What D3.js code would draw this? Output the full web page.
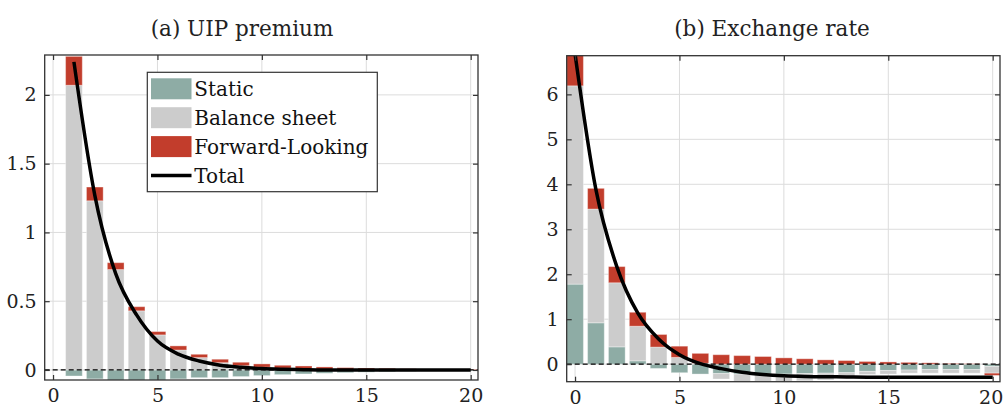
<!DOCTYPE html>
<html><head><meta charset="utf-8">
<script src="https://cdn.jsdelivr.net/npm/d3@7"></script>
<style>body{margin:0;background:#fff}svg{display:block}
.serif{font-family:"DejaVu Serif","Liberation Serif",serif}
.dserif{font-family:"DejaVu Serif","Liberation Serif",serif}
</style>
</head><body>
<svg id="chart" width="1003" height="411"></svg>
<script>
// ---------- data ----------
const seriesNames = ["Static", "Balance sheet", "Forward-Looking"];
const totalName = "Total";
const colors = ["#8eaca5", "#cccccc", "#c23d2c"];

// Panel (a) UIP premium, horizons 1..20
const uipHorizon = d3.range(1, 21);
const uipStatic  = [-0.044,-0.065,-0.075,-0.075,-0.075,-0.065,-0.056,-0.056,-0.048,-0.041,-0.034,-0.029,-0.024,-0.02,-0.016,-0.013,-0.01,-0.008,-0.006,-0.005];
const uipBalance = [2.07,1.23,0.73,0.43,0.255,0.145,0.09,0.053,0.031,0.02,0.012,0.007,0.004,0.003,0.002,0.002,0.001,0.001,0.001,0.001];
const uipForward = [0.21,0.10,0.05,0.03,0.024,0.03,0.024,0.025,0.025,0.024,0.022,0.022,0.018,0.014,0.012,0.01,0.008,0.006,0.005,0.004];
const uipTotal   = [2.24,1.27,0.70,0.40,0.21,0.115,0.065,0.035,0.02,0.01,0.005,0.002,0.0,0.0,0.0,0.0,0.0,0.0,0.0,0.0];
const uipYTicks  = [0, 0.5, 1, 1.5, 2];

// Panel (b) Exchange rate, horizons 0..20
const fxHorizon = d3.range(0, 21);
const fxStatic  = [1.78,0.92,0.385,0.074,-0.095,-0.19,-0.22,-0.21,-0.22,-0.22,-0.22,-0.21,-0.2,-0.19,-0.16,-0.14,-0.13,-0.12,-0.12,-0.12,-0.05];
const fxBalance = [4.41,2.53,1.425,0.77,0.38,0.15,0.02,-0.12,-0.17,-0.2,-0.21,-0.16,-0.15,-0.11,-0.07,-0.08,-0.07,-0.08,-0.08,-0.08,-0.15];
const fxForward = [0.75,0.46,0.36,0.31,0.28,0.25,0.22,0.21,0.19,0.17,0.14,0.12,0.096,0.08,0.06,0.05,0.04,0.03,0.015,0.01,-0.05];
const fxTotal   = [6.9,3.88,2.17,1.14,0.56,0.21,0.01,-0.1,-0.18,-0.23,-0.26,-0.275,-0.28,-0.285,-0.29,-0.29,-0.29,-0.29,-0.29,-0.29,-0.29];
const fxYTicks  = [0, 1, 2, 3, 4, 5, 6];

const xTicks = [0, 5, 10, 15, 20];
const titles = ["(a) UIP premium", "(b) Exchange rate"];

// ---------- drawing ----------
const svg = d3.select("#chart");

function panel(idx, cfg) {
  const {left, right, top, bottom, yDomain, horizon, st, bs, fw, tot, yTicks, title, titleX} = cfg;
  const x = d3.scaleLinear().domain([-0.4, 20.35]).range([left, right]);
  const y = d3.scaleLinear().domain(yDomain).range([bottom, top]);
  const g = svg.append("g");

  const clipId = "clip" + idx;
  svg.append("clipPath").attr("id", clipId).append("rect")
    .attr("x", left).attr("y", top).attr("width", right - left).attr("height", bottom - top);

  // grid
  const grid = g.append("g").attr("clip-path", `url(#${clipId})`);
  grid.selectAll(".gx").data(xTicks).join("line")
    .attr("x1", d => x(d)).attr("x2", d => x(d)).attr("y1", top).attr("y2", bottom)
    .attr("stroke", "#dcdcdc").attr("stroke-width", 1);
  grid.selectAll(".gy").data(yTicks).join("line")
    .attr("x1", left).attr("x2", right).attr("y1", d => y(d)).attr("y2", d => y(d))
    .attr("stroke", "#dcdcdc").attr("stroke-width", 1);

  // stacked bars
  const rows = horizon.map((h, i) => ({h, s0: st[i], s1: bs[i], s2: fw[i]}));
  const stack = d3.stack().keys(["s0", "s1", "s2"]).offset(d3.stackOffsetDiverging);
  const layers = stack(rows);
  const bw = x(0.8) - x(0);
  const bars = g.append("g").attr("clip-path", `url(#${clipId})`);
  layers.forEach((layer, k) => {
    bars.append("g").selectAll("rect").data(layer).join("rect")
      .attr("x", d => x(d.data.h) - bw / 2)
      .attr("width", bw)
      .attr("y", d => y(Math.max(d[0], d[1])))
      .attr("height", d => Math.abs(y(d[0]) - y(d[1])))
      .attr("fill", colors[k])
      .attr("stroke", "#ffffff").attr("stroke-opacity", 0.35).attr("stroke-width", 1);
  });

  // zero line (dashed)
  g.append("line").attr("x1", left).attr("x2", right).attr("y1", y(0)).attr("y2", y(0))
    .attr("stroke", "#000").attr("stroke-width", 1.3).attr("stroke-dasharray", "5,3");

  // total line
  const line = d3.line().x((d, i) => x(horizon[i])).y(d => y(d)).curve(d3.curveMonotoneX);
  g.append("path").datum(tot).attr("clip-path", `url(#${clipId})`)
    .attr("d", line).attr("fill", "none").attr("stroke", "#000").attr("stroke-width", 3.5);

  // frame
  g.append("rect").attr("x", left).attr("y", top).attr("width", right - left).attr("height", bottom - top)
    .attr("fill", "none").attr("stroke", "#333").attr("stroke-width", 1.3);

  // axes with inward ticks
  const axB = d3.axisBottom(x).tickValues(xTicks).tickSize(-5).tickPadding(9).tickFormat(d3.format("d"));
  const axT = d3.axisTop(x).tickValues(xTicks).tickSize(-5).tickFormat("");
  const axL = d3.axisLeft(y).tickValues(yTicks).tickSize(-5).tickPadding(8).tickFormat(d => String(d));
  const axR = d3.axisRight(y).tickValues(yTicks).tickSize(-5).tickFormat("");
  const axGroups = [];
  [[axB, `translate(0,${bottom})`], [axT, `translate(0,${top})`], [axL, `translate(${left},0)`], [axR, `translate(${right},0)`]]
    .forEach(([ax, tr]) => {
      const a = g.append("g").attr("transform", tr).call(ax);
      a.attr("font-family", null).attr("font-size", null);
      a.select(".domain").remove();
      a.selectAll(".tick line").attr("stroke", "#333").attr("stroke-width", 1.2);
      a.selectAll("text").attr("class", "serif").style("font-size", "19px").attr("fill", "#222");
      axGroups.push(a);
    });
  // keep the last bottom label inside the picture
  axGroups[0].selectAll(".tick text").filter(d => d === 20).attr("dx", idx === 1 ? -2 : 0);

  // title
  svg.append("text").attr("class", "dserif").attr("x", titleX).attr("y", 36).attr("text-anchor", "middle")
    .style("font-size", "21.5px").attr("fill", "#222")
    .text(title);
  return {x, y};
}

panel(0, {left: 44.7, right: 478, top: 55, bottom: 380, yDomain: [-0.073, 2.29],
  horizon: uipHorizon, st: uipStatic, bs: uipBalance, fw: uipForward, tot: uipTotal,
  yTicks: uipYTicks, title: titles[0], titleX: 242});
panel(1, {left: 566.7, right: 1000, top: 55.7, bottom: 381.7, yDomain: [-0.39, 6.86],
  horizon: fxHorizon, st: fxStatic, bs: fxBalance, fw: fxForward, tot: fxTotal,
  yTicks: fxYTicks, title: titles[1], titleX: 772});

// legend (panel a)
const leg = svg.append("g");
leg.append("rect").attr("x", 147.3).attr("y", 72.3).attr("width", 230).attr("height", 119.4)
  .attr("fill", "#fff").attr("stroke", "#333").attr("stroke-width", 1.2);
const legendItems = seriesNames.concat([totalName]);
legendItems.forEach((name, i) => {
  const cy = 88.8 + i * 28.9;
  if (i < 3) {
    leg.append("rect").attr("x", 151).attr("y", cy - 10.5).attr("width", 40.5).attr("height", 21)
      .attr("fill", colors[i]);
  } else {
    leg.append("line").attr("x1", 151).attr("x2", 191.5).attr("y1", cy).attr("y2", cy)
      .attr("stroke", "#000").attr("stroke-width", 3.5);
  }
  leg.append("text").attr("class", "serif").attr("x", 194.3).attr("y", cy + 7.5)
    .style("font-size", "20px")
    .attr("fill", "#111").text(name);
});
</script>
</body></html>
